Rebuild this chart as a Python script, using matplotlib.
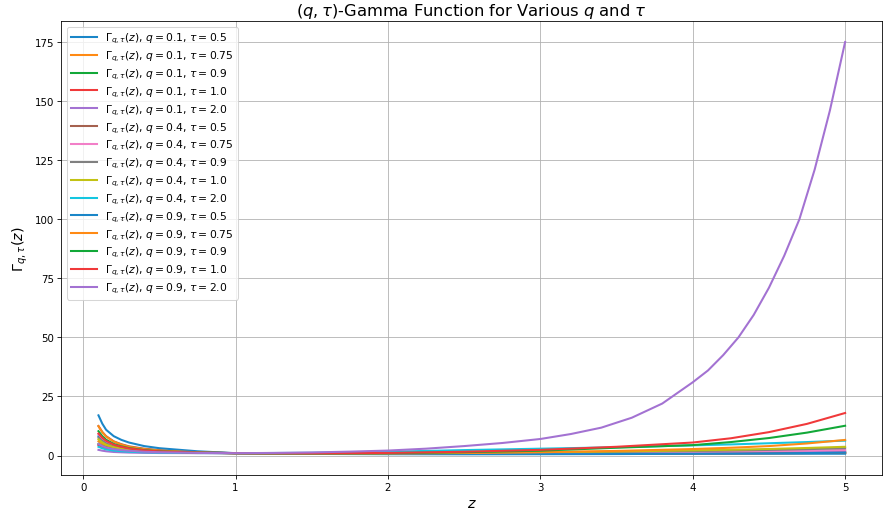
import numpy as np
import matplotlib
matplotlib.use("Agg")
import matplotlib.pyplot as plt

# values
z = [0.1, 0.125, 0.15, 0.2, 0.25, 0.3, 0.4, 0.5, 0.75, 1.0, 1.5, 2.0, 2.5, 3.0, 3.5, 4.0, 4.25, 4.5, 4.75, 5.0]

q_values = [0.1, 0.4, 0.9]
tau_values = [0.5, 0.75, 0.9, 1.0, 2.0]

# q = 0.1
g_q01_t05 = [8.2, 6.7, 5.6, 4.3, 3.55, 3.0, 2.4, 2.0, 1.3, 1.0, 0.85, 0.8, 0.78, 0.77, 0.76, 0.76, 0.76, 0.76, 0.76, 0.76]
g_q01_t075 = [6.0, 4.9, 4.1, 3.2, 2.68, 2.3, 1.9, 1.6, 1.2, 1.0, 0.93, 0.9, 0.92, 0.95, 0.98, 1.02, 1.04, 1.06, 1.08, 1.1]
g_q01_t09 = [4.9, 4.03, 3.4, 2.7, 2.3, 2.0, 1.65, 1.42, 1.13, 1.0, 0.97, 0.96, 1.0, 1.04, 1.09, 1.14, 1.17, 1.2, 1.23, 1.26]
g_q01_t10 = [4.4, 3.65, 3.1, 2.44, 2.07, 1.8, 1.5, 1.32, 1.1, 1.0, 0.99, 1.0, 1.05, 1.1, 1.15, 1.22, 1.25, 1.29, 1.32, 1.36]
g_q01_t20 = [2.4, 2.05, 1.8, 1.5, 1.36, 1.25, 1.12, 1.06, 1.0, 1.0, 1.08, 1.15, 1.25, 1.36, 1.48, 1.62, 1.7, 1.78, 1.87, 1.96]
# q = 0.4
g_q04_t05 = [12.5, 10.0, 8.2, 6.0, 4.8, 3.9, 2.9, 2.3, 1.4, 1.0, 0.77, 0.68, 0.66, 0.68, 0.73, 0.82, 0.88, 0.95, 1.03, 1.12]
g_q04_t075 = [9.0, 7.26, 6.0, 4.5, 3.63, 3.0, 2.3, 1.85, 1.26, 1.0, 0.86, 0.85, 0.92, 1.06, 1.24, 1.5, 1.65, 1.83, 2.05, 2.35]
g_q04_t09 = [7.5, 6.05, 5.0, 3.8, 3.1, 2.6, 2.0, 1.67, 1.2, 1.0, 0.9, 0.94, 1.06, 1.27, 1.53, 1.9, 2.12, 2.38, 2.7, 3.1]
g_q04_t10 = [6.85, 5.55, 4.6, 3.5, 2.89, 2.45, 1.9, 1.6, 1.17, 1.0, 0.93, 1.0, 1.15, 1.4, 1.72, 2.18, 2.45, 2.78, 3.2, 3.7]
g_q04_t20 = [3.7, 3.06, 2.6, 2.1, 1.81, 1.6, 1.37, 1.25, 1.04, 1.0, 1.15, 1.6, 2.3, 2.9, 3.5, 4.3, 4.7, 5.2, 5.7, 6.3]
# q = 0.9
g_q09_t05 = [17.0, 13.5, 10.9, 8.2, 6.63, 5.5, 4.0, 3.1, 1.8, 1.0, 0.68, 0.55, 0.52, 0.55, 0.62, 0.75, 0.82, 0.92, 1.04, 1.2]
g_q09_t075 = [12.4, 9.85, 8.0, 5.9, 4.62, 3.7, 2.7, 2.1, 1.35, 1.0, 0.8, 0.85, 1.05, 1.4, 1.95, 2.75, 3.3, 4.0, 5.1, 6.6]
g_q09_t09 = [10.3, 8.2, 6.7, 4.9, 3.88, 3.15, 2.3, 1.8, 1.24, 1.0, 0.88, 1.0, 1.4, 2.05, 3.3, 4.4, 5.7, 7.4, 9.7, 12.6]
g_q09_t10 = [9.3, 7.5, 6.2, 4.6, 3.67, 3.0, 2.2, 1.75, 1.22, 1.0, 0.92, 1.1, 1.6, 2.4, 3.7, 5.5, 7.3, 9.9, 13.4, 18.0]
# steep curve, read at more points
z_steep = [0.1, 0.125, 0.15, 0.2, 0.25, 0.3, 0.4, 0.5, 0.75, 1.0, 1.25, 1.5, 1.75, 2.0, 2.25, 2.5, 2.75,
           3.0, 3.2, 3.4, 3.6, 3.8, 4.0, 4.1, 4.2, 4.3, 4.4, 4.5, 4.6, 4.7, 4.8, 4.9, 5.0]
g_q09_t20 = [4.9, 4.03, 3.4, 2.7, 2.3, 2.0, 1.6, 1.4, 1.1, 1.0, 1.1, 1.3, 1.65, 2.1, 2.9, 4.0, 5.3,
             7.0, 9.1, 11.8, 16.0, 22.0, 31.0, 36.0, 42.5, 50.0, 59.5, 71.0, 84.5, 100.0, 121.0, 146.0, 175.0]

series = [
    g_q01_t05, g_q01_t075, g_q01_t09, g_q01_t10, g_q01_t20,
    g_q04_t05, g_q04_t075, g_q04_t09, g_q04_t10, g_q04_t20,
    g_q09_t05, g_q09_t075, g_q09_t09, g_q09_t10, g_q09_t20,
]

# colour cycle as it looks in the reference (tab10, a bit brighter)
colors = ['#1a86c8', '#ff8a14', '#12a838', '#f0393a', '#a372d2',
          '#a5614f', '#f27fc8', '#808080', '#c2c214', '#14c6e0']

fig = plt.figure(figsize=(12, 7), dpi=886 / 12)
ax = fig.add_axes([0.069, 0.0795, 0.927, 0.8775])

k = 0
for q in q_values:
    for tau in tau_values:
        zz = z_steep if k == 14 else z
        ax.plot(zz, series[k], lw=2, color=colors[k % 10],
                label=r'$\Gamma_{q,\tau}(z)$, $q=%s$, $\tau=%s$' % (q, tau))
        k += 1

ax.set_title(r'$(q, \tau)$-Gamma Function for Various $q$ and $\tau$', fontsize=16)
ax.set_xlabel(r'$z$', fontsize=14)
ax.set_ylabel(r'$\Gamma_{q,\tau}(z)$', fontsize=14)
ax.legend(loc='upper left', fontsize=10.5, labelspacing=0.32, handlelength=2.4)
ax.grid(True)

plt.savefig('out.png', dpi=886 / 12)
